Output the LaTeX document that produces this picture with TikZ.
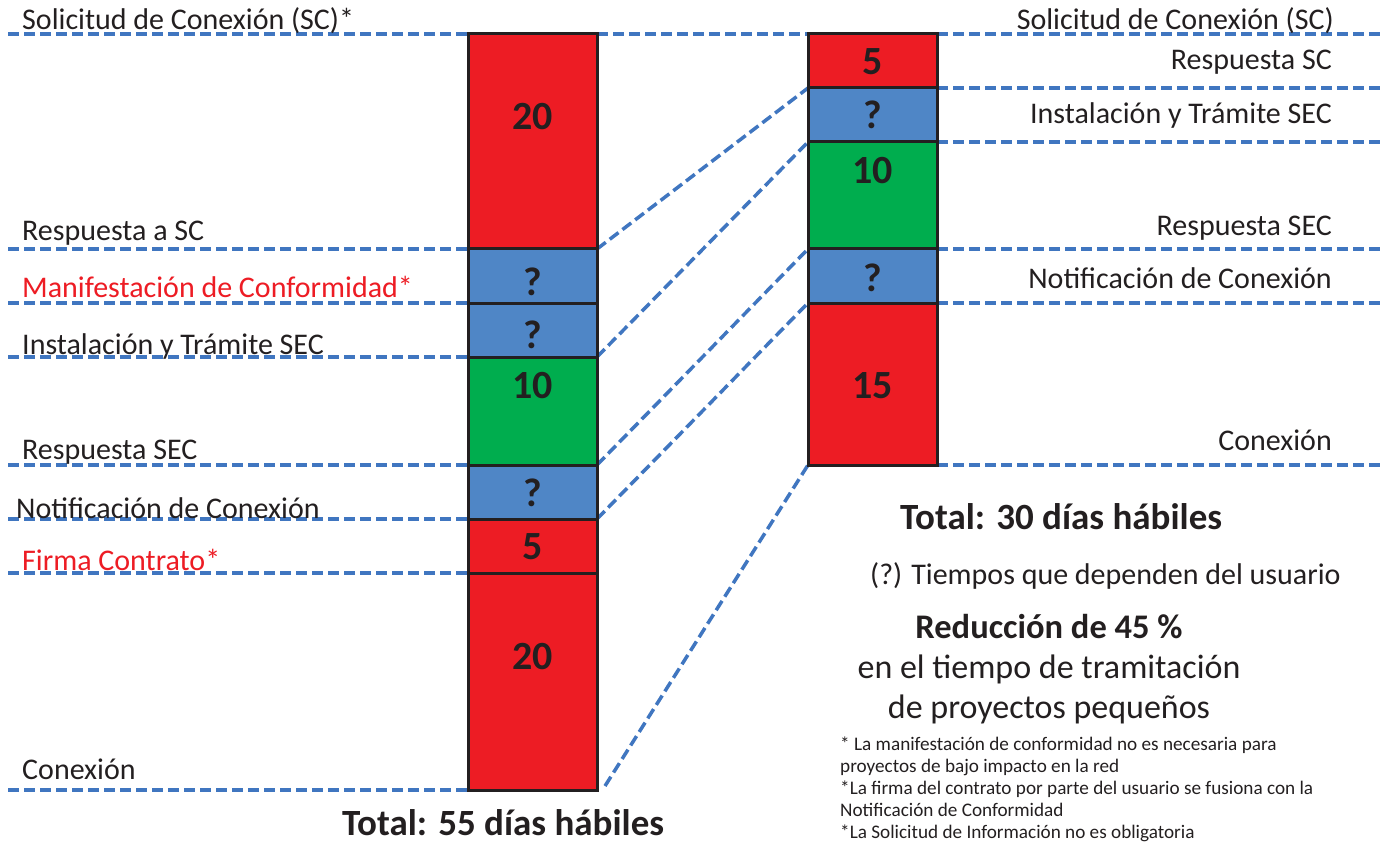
\documentclass[tikz,border=0pt]{standalone}
\usepackage{fontspec}
\setmainfont{Carlito}
\usetikzlibrary{calc}
\definecolor{bred}{RGB}{237,28,36}
\definecolor{bblue}{RGB}{79,134,198}
\definecolor{bgreen}{RGB}{0,173,78}
\definecolor{dashblue}{RGB}{64,118,192}
\definecolor{txt}{RGB}{35,31,32}
\tikzset{
  blk/.style={draw=txt, line width=3pt, minimum width=129pt, inner sep=0pt, outer sep=0pt, anchor=north west},
  dl/.style={draw=dashblue, line width=3.5pt, dash pattern=on 11pt off 5pt},
  lab/.style={font=\fontsize{30}{36}\selectfont, text=txt, inner sep=0pt},
  redlab/.style={lab, text=bred},
  num/.style={font=\bfseries\fontsize{40}{44}\selectfont, text=txt, inner sep=0pt},
  total/.style={font=\bfseries\fontsize{37}{40}\selectfont, text=txt, inner sep=0pt, anchor=base},
  note/.style={font=\fontsize{19.2}{22}\selectfont, text=txt, inner sep=0pt, anchor=north west, align=left},
}
\begin{document}
\begin{tikzpicture}[x=1pt,y=-1pt]
\useasboundingbox (0,0) rectangle (1383,842);
\clip (0,0) rectangle (1383,842);
% free ends of the guide lines
\coordinate (a0) at (8,34);
\coordinate (a1) at (8,249);
\coordinate (a2) at (8,303);
\coordinate (a3) at (8,357);
\coordinate (a4) at (8,465);
\coordinate (a5) at (8,519);
\coordinate (a6) at (8,573);
\coordinate (a7) at (8,790);
\coordinate (b0) at (1383,34);
\coordinate (b1) at (1383,88);
\coordinate (b2) at (1383,142);
\coordinate (b3) at (1383,249);
\coordinate (b4) at (1383,303);
\coordinate (b5) at (1383,465);
\coordinate (c5) at (605,786);
% block positions
\path (468,34) node[blk, minimum height=215pt] (L1) {}
      (468,249) node[blk, minimum height=54pt] (L2) {}
      (468,303) node[blk, minimum height=54pt] (L3) {}
      (468,357) node[blk, minimum height=108pt] (L4) {}
      (468,465) node[blk, minimum height=54pt] (L5) {}
      (468,519) node[blk, minimum height=54pt] (L6) {}
      (468,573) node[blk, minimum height=217pt] (L7) {}
      (808,34) node[blk, minimum height=54pt] (R1) {}
      (808,88) node[blk, minimum height=54pt] (R2) {}
      (808,142) node[blk, minimum height=107pt] (R3) {}
      (808,249) node[blk, minimum height=54pt] (R4) {}
      (808,303) node[blk, minimum height=162pt] (R5) {};
% dashed guide lines
\draw[dl] (a0) -- (L1.north west);
\draw[dl] (L1.north east) -- (R1.north west);
\draw[dl] (R1.north east) -- (b0);
\draw[dl] (a1) -- (L2.north west);
\draw[dl] (a2) -- (L3.north west);
\draw[dl] (a3) -- (L4.north west);
\draw[dl] (a4) -- (L5.north west);
\draw[dl] (a5) -- (L6.north west);
\draw[dl] (a6) -- (L7.north west);
\draw[dl] (a7) -- (L7.south west);
\draw[dl] (R2.north east) -- (b1);
\draw[dl] (R3.north east) -- (b2);
\draw[dl] (R4.north east) -- (b3);
\draw[dl] (R5.north east) -- (b4);
\draw[dl] (R5.south east) -- (b5);
\draw[dl] (L2.north east) -- (R2.north west);
\draw[dl] (L4.north east) -- (R3.north west);
\draw[dl] (L5.north east) -- (R4.north west);
\draw[dl] (L6.north east) -- (R5.north west);
\draw[dl] (c5) -- (R5.south west);
% blocks
\node[blk, fill=bred,   minimum height=215pt] at (468,34) {};
\node[blk, fill=bblue,  minimum height=54pt]  at (468,249) {};
\node[blk, fill=bblue,  minimum height=54pt]  at (468,303) {};
\node[blk, fill=bgreen, minimum height=108pt] at (468,357) {};
\node[blk, fill=bblue,  minimum height=54pt]  at (468,465) {};
\node[blk, fill=bred,   minimum height=54pt]  at (468,519) {};
\node[blk, fill=bred,   minimum height=217pt] at (468,573) {};
\node[blk, fill=bred,   minimum height=54pt]  at (808,34) {};
\node[blk, fill=bblue,  minimum height=54pt]  at (808,88) {};
\node[blk, fill=bgreen, minimum height=107pt] at (808,142) {};
\node[blk, fill=bblue,  minimum height=54pt]  at (808,249) {};
\node[blk, fill=bred,   minimum height=162pt] at (808,303) {};
% numbers
\node[num] (nL1) at (532.5,117) {20};
\node[num] (nL2) at (532.5,282) {?};
\node[num] (nL3) at (532.5,335) {?};
\node[num] (nL4) at (532.5,386) {10};
\node[num] (nL5) at (532.5,493) {?};
\node[num] (nL6) at (532.5,547) {5};
\node[num] (nL7) at (532.5,657) {20};
\node[num] (nR1) at (872.5,62) {5};
\node[num] (nR2) at (872.5,115) {?};
\node[num] (nR3) at (872.5,171) {10};
\node[num] (nR4) at (872.5,278) {?};
\node[num] (nR5) at (872.5,386) {15};
% left labels
\node[lab, anchor=base west] (t1) at (22,30) {Solicitud de Conexión (SC)*};
\node[lab, anchor=base west] (t2) at (22,241) {Respuesta a SC};
\node[redlab, anchor=base west] (t3) at (22,298) {Manifestación de Conformidad*};
\node[lab, anchor=base west] (t4) at (22,354) {Instalación y Trámite SEC};
\node[lab, anchor=base west] (t5) at (22,459) {Respuesta SEC};
\node[lab, anchor=base west] (t6) at (16,518) {Notificación de Conexión};
\node[redlab, anchor=base west] (t7) at (22,570) {Firma Contrato*};
\node[lab, anchor=base west] (t8) at (22,779) {Conexión};
% right labels
\node[lab, anchor=base east] (r1) at (1334,30) {Solicitud de Conexión (SC)};
\node[lab, anchor=base east] (r2) at (1332,70) {Respuesta SC};
\node[lab, anchor=base east] (r3) at (1332,124) {Instalación y Trámite SEC};
\node[lab, anchor=base east] (r4) at (1332,236) {Respuesta SEC};
\node[lab, anchor=base east] (r5) at (1332,288) {Notificación de Conexión};
\node[lab, anchor=base east] (r6) at (1332,450) {Conexión};
% totals and notes
\node[total] (tot1) at (503,835) {Total: 55 días hábiles};
\node[total] (tot2) at (1061,529) {Total: 30 días hábiles};
\node[lab, anchor=base west] (q) at (870,584) {(?) Tiempos que dependen del usuario};
\node[font=\bfseries\fontsize{34.5}{40}\selectfont, text=txt, inner sep=0pt, anchor=base] (red1) at (1049,638) {Reducción de 45 \%};
\node[font=\fontsize{34}{40}\selectfont, text=txt, inner sep=0pt, anchor=base] (red2) at (1049,678) {en el tiempo de tramitación};
\node[font=\fontsize{34}{40}\selectfont, text=txt, inner sep=0pt, anchor=base] (red3) at (1049,718) {de proyectos pequeños};
\node[note] (n1) at (840,737) {* La manifestación de conformidad no es necesaria para\\proyectos de bajo impacto en la red\\*La firma del contrato por parte del usuario se fusiona con la\\Notificación de Conformidad\\*La Solicitud de Información no es obligatoria};
\end{tikzpicture}
\end{document}
